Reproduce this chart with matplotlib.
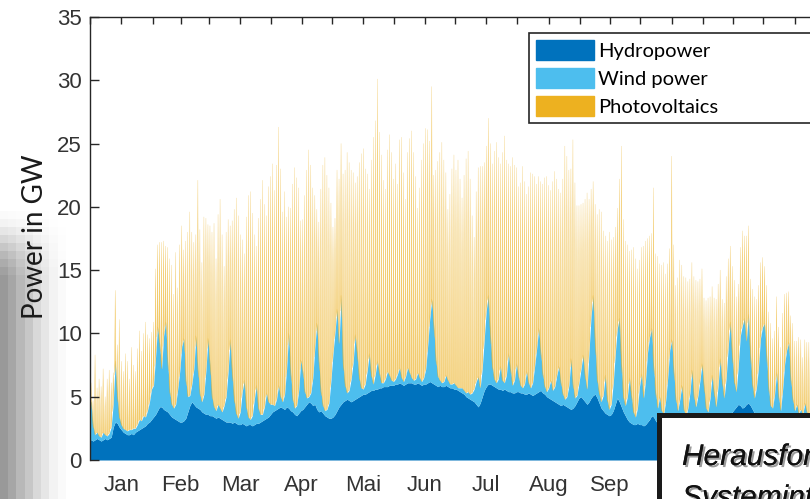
import matplotlib

matplotlib.use("Agg")
import matplotlib.pyplot as plt
import numpy as np
from matplotlib import patheffects
from matplotlib.collections import PolyCollection
from matplotlib.patches import Patch, Rectangle
from matplotlib.transforms import Bbox, TransformedBbox

# month axis (German labels)
month_names = ["Jan", "Feb", "Mar", "Apr", "Mai", "Jun",
               "Jul", "Aug", "Sep", "Okt", "Nov", "Dez"]
month_days = [31, 28, 31, 30, 31, 30, 31, 31, 30, 31, 30, 31]

# daily hydropower level in GW
hydro_gw = [
    1.6, 1.5, 1.6, 1.7, 1.6, 1.5, 1.6, 1.7, 1.6, 1.7, 1.8, 2.6, 3.0, 2.9, 2.6, 2.4,
    2.2, 2.1, 2.0, 2.0, 2.1, 2.0, 2.2, 2.3, 2.4, 2.5, 2.6, 2.7, 2.9, 3.0, 3.2,
    3.4, 3.6, 3.9, 4.2, 4.2, 4.0, 3.9, 3.8, 3.6, 3.4, 3.3, 3.2, 3.1, 3.0,
    3.0, 3.1, 3.3, 3.8, 4.3, 4.6, 4.4, 4.2, 4.1, 4.0, 3.8, 3.7, 3.6, 3.6,
    3.5, 3.5, 3.4, 3.3, 3.4, 3.3, 3.2, 3.1, 3.0, 3.0, 3.0, 2.9, 3.0, 2.9, 2.8, 2.8,
    2.9, 2.8, 2.7, 2.8, 2.8, 2.7, 2.8, 2.9, 2.9, 3.0, 3.1, 3.2, 3.3, 3.4, 3.6,
    3.8, 3.9, 4.0, 4.1, 4.2, 4.1, 4.0, 4.2, 4.1, 3.9, 3.8, 3.6, 3.5, 3.7, 3.9,
    4.0, 4.2, 4.4, 4.6, 4.5, 4.3, 4.4, 4.0, 3.8, 3.9, 3.7, 3.5, 3.4, 3.3, 3.3,
    3.4, 3.6, 3.9, 4.2, 4.4, 4.6, 4.7, 4.8, 4.7, 4.6, 4.7, 4.8, 4.9, 5.0, 5.1, 5.2,
    5.2, 5.3, 5.4, 5.5, 5.5, 5.6, 5.6, 5.7, 5.7, 5.8, 5.8, 5.8, 5.9, 5.9, 5.9,
    6.0, 6.0, 6.1, 6.0, 5.9, 6.0, 6.1, 6.1, 6.1, 6.0, 6.0, 6.1, 6.0, 5.9, 6.0,
    6.0, 6.1, 6.2, 6.1, 6.0, 5.9, 5.8, 5.9, 5.8, 5.8, 5.9, 5.8, 5.7, 5.7, 5.6,
    5.6, 5.5, 5.4, 5.3, 5.2, 5.0, 4.9, 4.8, 4.7, 4.6, 4.4, 4.2, 4.5, 5.0, 5.5, 5.8,
    6.0, 6.0, 5.9, 5.8, 5.7, 5.6, 5.6, 5.5, 5.6, 5.5, 5.4, 5.4, 5.3, 5.3, 5.4,
    5.4, 5.3, 5.3, 5.2, 5.2, 5.3, 5.2, 5.1, 5.2, 5.3, 5.4, 5.5, 5.3, 5.2, 5.0, 4.9,
    4.8, 4.7, 4.6, 4.5, 4.4, 4.3, 4.4, 4.3, 4.2, 4.1, 4.0, 4.1, 4.3, 4.6, 4.9,
    5.0, 4.8, 4.6, 4.4, 4.6, 4.9, 5.1, 5.2, 4.9, 4.5, 4.1, 3.9, 3.7, 3.6, 3.5,
    3.6, 3.9, 4.4, 4.9, 4.6, 4.2, 3.8, 3.5, 3.2, 3.0, 2.9, 2.8, 2.8, 2.9, 2.8,
    2.8, 2.7, 2.8, 3.0, 3.2, 3.5, 3.4, 3.1, 2.9, 2.8, 2.7, 2.8, 2.9, 3.0, 3.2, 3.4,
    3.5, 3.3, 3.1, 3.0, 2.9, 2.8, 2.8, 2.9, 3.1, 3.3, 3.2, 3.0, 2.9, 2.8, 2.8,
    2.8, 2.9, 3.0, 3.1, 3.2, 3.1, 3.0, 2.9, 3.0, 3.2, 3.4, 3.5, 3.4, 3.6, 3.8,
    4.0, 4.2, 4.4, 4.3, 4.1, 4.2, 4.4, 4.5, 4.3, 4.0, 3.7, 3.5, 3.3, 3.1, 3.0,
    2.9, 2.8, 2.7, 2.8, 2.9, 3.0, 2.9, 2.8, 2.7, 2.6, 2.6, 2.7, 2.8, 2.9, 2.8, 2.7,
    2.6, 2.5, 2.5, 2.6, 2.7, 2.6, 2.5, 2.4, 2.4, 2.5, 2.6, 2.5, 2.4, 2.4, 2.3,
]

# daily wind power on top of hydropower, GW
wind_gw = [
    3.0, 1.2, 0.4, 0.5, 0.3, 0.3, 0.6, 0.3, 0.3, 0.4, 0.8, 1.8, 4.8, 2.2, 0.8, 0.4,
    0.3, 0.3, 0.3, 0.4, 0.3, 0.5, 0.3, 0.5, 0.8, 0.6, 0.9, 0.7, 1.0, 1.6, 2.4,
    2.5, 4.5, 6.6, 5.0, 3.0, 5.8, 7.0, 4.0, 1.8, 1.0, 0.8, 1.2, 2.5, 4.0,
    6.0, 6.5, 3.0, 1.2, 0.8, 1.4, 2.8, 5.6, 3.0, 1.2, 0.8, 1.5, 3.5, 6.0,
    4.0, 1.5, 0.8, 0.6, 1.0, 0.8, 0.6, 1.2, 2.0, 4.0, 6.5, 4.0, 1.8, 0.8, 0.5, 1.0,
    2.5, 3.5, 1.5, 0.6, 0.4, 0.8, 2.0, 3.0, 1.2, 0.6, 0.5, 1.0, 2.0, 1.2, 0.8,
    0.6, 0.4, 0.8, 1.8, 0.8, 0.5, 1.2, 3.0, 5.9, 3.0, 1.0, 0.5, 0.8, 1.8, 4.0,
    3.0, 1.2, 0.5, 0.4, 0.8, 2.2, 4.5, 6.8, 4.0, 1.5, 0.6, 0.4, 0.6, 1.2, 3.0,
    5.0, 6.5, 8.0, 5.0, 8.6, 3.0, 1.2, 0.5, 0.8, 1.8, 3.0, 5.1, 3.5, 1.5, 0.6, 0.4,
    0.8, 1.8, 3.0, 1.2, 0.5, 1.2, 2.2, 1.2, 0.4, 0.3, 0.6, 1.2, 0.8, 0.4, 0.3,
    0.4, 0.8, 1.2, 0.5, 0.3, 0.6, 1.2, 0.8, 0.4, 0.3, 0.4, 0.8, 0.5, 0.3, 0.5,
    1.2, 3.0, 5.0, 6.6, 4.5, 2.0, 0.8, 0.4, 0.3, 0.4, 0.8, 0.5, 0.3, 0.3, 0.5,
    0.3, 0.2, 0.3, 0.4, 0.3, 0.3, 0.5, 0.4, 0.6, 1.0, 1.8, 2.4, 1.2, 2.2, 4.0, 6.0,
    7.0, 4.0, 1.5, 0.6, 0.4, 0.8, 1.8, 0.8, 0.5, 1.2, 3.0, 1.8, 0.6, 1.0, 2.2,
    1.2, 0.6, 0.4, 0.8, 1.8, 0.8, 0.5, 1.0, 2.2, 3.5, 5.0, 3.0, 1.5, 0.6, 0.4, 0.8,
    1.5, 0.8, 1.2, 2.2, 3.0, 1.8, 0.8, 0.5, 0.8, 1.8, 4.0, 1.8, 0.6, 0.5, 1.2,
    2.2, 3.5, 2.0, 1.2, 4.0, 6.5, 7.9, 4.0, 1.5, 0.8, 0.5, 1.2, 3.0, 1.2, 0.5,
    0.8, 2.2, 4.0, 5.5, 6.6, 3.5, 1.2, 0.8, 1.8, 3.5, 2.2, 1.0, 0.6, 1.2, 3.0,
    4.0, 2.2, 3.5, 5.5, 6.5, 6.9, 4.0, 2.2, 1.2, 2.2, 1.2, 0.8, 1.8, 3.5, 5.5, 6.1,
    3.5, 1.5, 0.8, 1.8, 3.0, 1.2, 0.6, 1.2, 2.2, 3.8, 1.8, 1.2, 2.2, 3.5, 4.8,
    3.0, 1.2, 0.8, 1.8, 3.5, 2.2, 1.2, 3.0, 5.0, 3.0, 1.5, 3.0, 5.5, 7.3, 4.5,
    2.2, 1.2, 3.0, 5.5, 6.5, 7.0, 5.0, 7.0, 4.0, 2.0, 1.2, 2.2, 4.0, 6.5, 7.5,
    7.9, 5.5, 3.0, 1.5, 1.2, 2.2, 4.0, 2.2, 1.2, 3.0, 5.0, 6.0, 6.5, 3.5, 2.0, 1.2,
    1.8, 1.2, 1.5, 1.0, 1.8, 1.2, 0.8, 1.8, 3.0, 2.2, 1.2, 1.8, 3.0, 2.2, 1.2,
]

# daily photovoltaic peak on top of wind, GW
pv_peak_gw = [
    1.5, 2.0, 6.3, 3.5, 4.5, 4.0, 5.0, 3.0, 4.5, 5.0, 3.5, 2.5, 5.6, 4.0, 7.7, 5.0,
    4.5, 6.0, 5.5, 4.0, 6.5, 5.0, 4.5, 6.0, 7.0, 5.5, 6.5, 7.5, 6.0, 5.0, 4.5,
    5.0, 7.0, 6.5, 8.0, 10.0, 7.5, 6.0, 9.0, 10.5, 11.0, 9.0, 12.0, 8.0, 10.0,
    9.5, 7.0, 11.0, 13.0, 14.5, 12.0, 10.0, 8.0, 15.0, 13.0, 11.0, 14.0, 12.0, 9.0,
    11.0, 13.0, 14.5, 12.0, 15.0, 16.5, 14.0, 11.0, 13.0, 12.0, 9.0, 12.0, 15.0,
    17.0, 16.0, 14.0, 12.0, 10.0, 15.0, 17.5, 18.0, 16.0, 13.0, 11.0, 15.0, 17.0,
    18.5, 16.0, 14.0, 17.0, 18.0,
    19.0, 17.0, 18.5, 20.4, 18.0, 15.0, 16.0, 12.0, 10.0, 13.0, 17.0, 19.0, 18.0,
    16.0, 11.0, 12.0, 15.5, 18.0, 19.5, 18.0, 15.0, 12.0, 9.0, 11.0, 16.0, 19.0,
    20.0, 18.5, 17.0, 14.0,
    10.0, 9.0, 11.0, 13.0, 12.0, 15.0, 17.0, 19.0, 18.0, 16.5, 15.0, 12.0, 14.0,
    17.0, 18.5, 19.0, 17.0, 15.5, 13.0, 17.0, 19.5, 20.0, 22.3, 19.0, 18.0, 16.0,
    15.0, 17.5, 19.0, 18.0, 16.0,
    17.0, 15.0, 18.0, 19.0, 16.5, 14.0, 17.0, 18.5, 19.5, 18.0, 16.0, 13.0, 15.0,
    17.5, 18.5, 19.0, 17.0, 14.0, 16.8, 12.0, 15.0, 17.0, 18.0, 19.0, 17.5, 16.0,
    13.5, 15.0, 17.0, 18.0,
    17.0, 18.0, 16.5, 15.0, 17.0, 18.5, 19.0, 17.0, 14.0, 12.0, 15.0, 16.5, 17.5,
    16.0, 14.0, 13.0, 14.0, 15.0, 16.0, 18.0, 19.0, 17.5, 16.0, 18.0, 19.5, 17.0,
    15.0, 16.0, 18.0, 17.0, 15.5,
    15.0, 16.0, 17.5, 16.0, 14.0, 15.5, 17.0, 16.5, 15.0, 13.0, 12.0, 13.5, 15.0,
    16.5, 17.0, 16.0, 15.0, 16.5, 17.0, 15.5, 14.0, 15.0, 17.0, 20.0, 19.0, 17.0,
    15.0, 19.4, 17.0, 15.0, 14.0,
    13.0, 12.0, 14.0, 15.5, 12.0, 10.0, 9.0, 11.0, 13.0, 14.5, 15.0, 13.0, 11.0,
    12.5, 14.0, 13.0, 11.5, 10.0, 9.5, 11.0, 17.1, 14.0, 13.0, 12.0, 10.0, 11.5,
    13.0, 12.5, 11.0, 10.0,
    10.0, 12.0, 11.0, 9.0, 8.0, 7.5, 14.1, 11.0, 12.0, 10.5, 11.5, 12.0, 10.0,
    9.0, 8.0, 14.5, 10.0, 9.0, 10.5, 11.0, 9.5, 10.5, 11.0, 10.0, 9.0, 8.5, 9.5,
    10.0, 9.0, 8.0, 7.5,
    7.0, 8.5, 9.0, 8.0, 7.0, 7.5, 8.5, 8.0, 7.0, 6.5, 7.5, 8.0, 7.0, 6.0, 7.0,
    8.0, 7.5, 6.5, 7.0, 7.5, 6.5, 8.3, 7.0, 6.0, 7.5, 8.0, 7.0, 6.5, 6.0, 5.5,
    4.5, 5.5, 6.0, 6.5, 5.5, 5.0, 6.0, 5.5, 5.0, 6.0, 5.5, 4.5, 4.0, 5.0, 6.0,
    5.5, 5.0, 6.0, 5.5, 4.5, 5.0, 5.5, 6.0, 5.0, 4.5, 5.0, 5.5, 6.0, 5.0, 4.5, 4.0,
]

series_labels = ["Hydropower", "Wind power", "Photovoltaics"]

C_HYDRO = "#0072BD"
C_WIND = "#4DBEEE"
C_PV = "#EDB120"
AX_COLOR = "#262626"

hydro = np.array(hydro_gw)
wind = np.array(wind_gw)
pv = np.array(pv_peak_gw)
n_days = len(hydro)
days = np.arange(n_days)
base = hydro + wind

fig = plt.figure(figsize=(8.1, 4.99), dpi=100)

# shaded strip behind the y label
shade_cols = [0.40, 0.35, 0.28, 0.22, 0.15, 0.10, 0.05, 0.02]
shade_rows = [0.05, 0.12, 0.25, 0.40, 0.55, 0.70, 0.82, 0.92] + [1.0] * 28
bg = fig.add_axes([0, 0, 66 / 810, 288 / 499], zorder=-1)
bg.imshow(1 - np.outer(shade_rows, shade_cols), cmap="gray", vmin=0, vmax=1,
          aspect="auto", interpolation="nearest")
bg.axis("off")

ax = fig.add_axes([90 / 810, 1 - 460 / 499, 736 / 810, 443 / 499])
ax.patch.set_alpha(0)

# stacked areas, one point per day
xs = np.r_[0, days + 0.5, n_days]
ax.fill_between(xs, 0, np.r_[hydro[0], hydro, hydro[-1]], color=C_HYDRO, lw=0)
ax.fill_between(xs, np.r_[hydro[0], hydro, hydro[-1]],
                np.r_[base[0], base, base[-1]], color=C_WIND, lw=0)

# photovoltaics: a daytime spike per day sitting on the wind layer,
# with the night gap left open on both sides
edges = np.r_[base[0], (base[:-1] + base[1:]) / 2, base[-1]]
dawn, dusk = 0.18, 0.82
verts = []
for d in days:
    b_dawn = edges[d] + (base[d] - edges[d]) * dawn / 0.5
    b_dusk = edges[d + 1] + (base[d] - edges[d + 1]) * (1 - dusk) / 0.5
    verts.append([(d + dawn, b_dawn), (d + 0.5, base[d] + pv[d]),
                  (d + dusk, b_dusk), (d + 0.5, base[d])])
ax.add_collection(PolyCollection(verts, facecolors=C_PV, edgecolors=C_PV,
                                 linewidths=0.25, alpha=0.62))

ax.set_xlim(0, n_days)
ax.set_ylim(0, 35)

month_starts = np.cumsum([0] + month_days[:-1])
month_mids = month_starts + np.array(month_days) / 2
ax.set_xticks(month_mids)
ax.set_xticklabels(month_names)
ax.set_xticks(month_starts, minor=True)
ax.set_yticks(range(0, 36, 5))

ax.tick_params(axis="x", which="both", bottom=False, top=True, direction="in",
               length=5, width=1, color=AX_COLOR, labelsize=16,
               labelcolor="#333333", pad=11)
ax.tick_params(axis="y", which="both", left=True, right=False, direction="in",
               length=6.5, width=1, color=AX_COLOR, labelsize=16,
               labelcolor="#333333", pad=6)
for lab in ax.get_xticklabels() + ax.get_yticklabels():
    lab.set_family("Liberation Sans")

# month labels stop where the caption box starts
label_area = TransformedBbox(Bbox([[0, 0], [648 / 810, 1]]), fig.transFigure)
for lab in ax.get_xticklabels():
    lab.set_clip_box(label_area)
    lab.set_clip_on(True)

for side in ("bottom", "right"):
    ax.spines[side].set_visible(False)
for side in ("left", "top"):
    ax.spines[side].set_color(AX_COLOR)
    ax.spines[side].set_linewidth(1.0)

fig.text(35 / 810, 1 - 237 / 499, "Power in GW", rotation=90, ha="center",
         va="center", family="Lato", fontsize=20, color="#1a1a1a")

handles = [Patch(facecolor=c, edgecolor=c) for c in (C_HYDRO, C_WIND, C_PV)]
leg = ax.legend(handles, series_labels, loc="upper left",
                bbox_to_anchor=(0.5965, 0.964, 0.4, 0), mode="expand",
                borderaxespad=0, fancybox=False, framealpha=1,
                edgecolor=AX_COLOR, prop={"family": "Lato", "size": 14.5},
                handlelength=2.85, handleheight=1.12, handletextpad=0.2,
                labelspacing=0.42, borderpad=0.36)
leg.get_frame().set_linewidth(1.2)

# caption box in the lower right corner
box = Rectangle((658.5 / 810, -0.2), 0.5, 0.2 + (499 - 415) / 499,
                transform=fig.transFigure, facecolor="white",
                edgecolor="#1a1a1a", lw=3.6, zorder=5)
fig.add_artist(box)
shadow = [patheffects.withSimplePatchShadow(offset=(1.5, -1.5), alpha=0.4),
          patheffects.Normal()]
for text, base_px in (("Herausforderungen", 465), ("Systemintegration", 506)):
    fig.text(682 / 810, 1 - base_px / 499, text, fontsize=21.5, style="italic",
             family="Liberation Sans", va="baseline", color="#111111",
             zorder=6, path_effects=shadow)

fig.savefig("out.png", dpi=100)
